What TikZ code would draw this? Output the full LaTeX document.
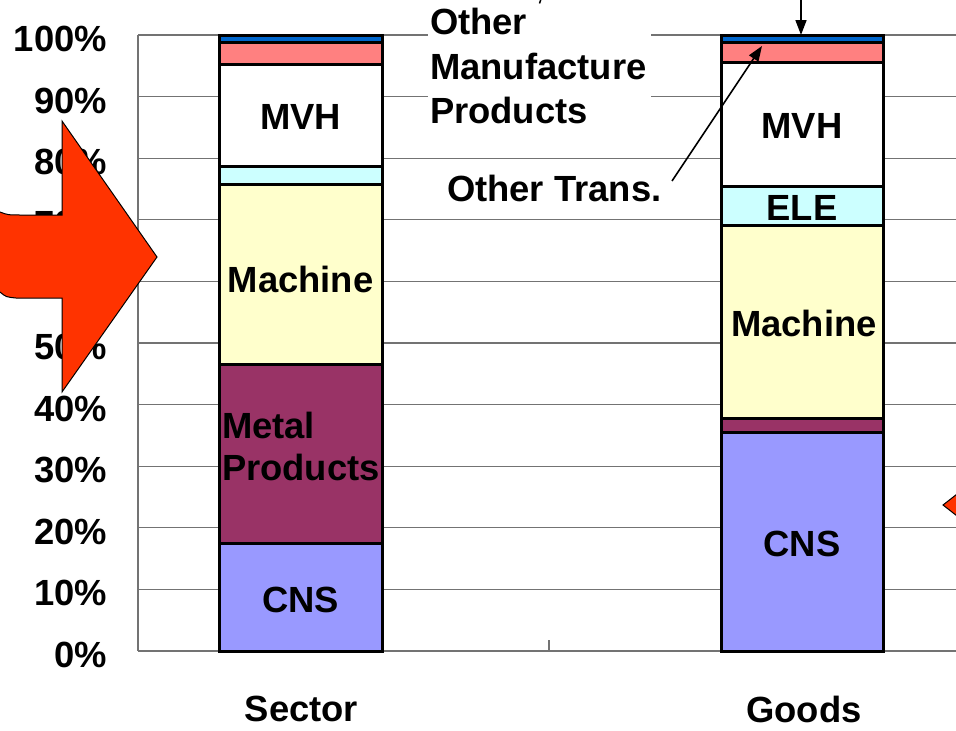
\documentclass[tikz,border=0pt]{standalone}
\usepackage{fontspec}
\setmainfont{Liberation Sans}
\usetikzlibrary{arrows.meta}
\definecolor{cnscol}{HTML}{9999FF}
\definecolor{metalcol}{HTML}{993366}
\definecolor{machcol}{HTML}{FFFFCC}
\definecolor{elecol}{HTML}{CCFFFF}
\definecolor{ompcol}{HTML}{FF8080}
\definecolor{otrcol}{HTML}{0066CC}
\definecolor{bigred}{HTML}{FF3300}
\begin{document}
\begin{tikzpicture}[x=1pt,y=-1pt,
  lbl/.style={font=\fontsize{36.4}{42}\selectfont\bfseries, inner sep=0pt, outer sep=0pt},
  gridln/.style={draw=black!55, line width=1.3pt},
  seg/.style={draw=black, line width=3pt},
  callout/.style={draw=black, line width=1.6pt, -{Triangle[length=15pt,width=11pt]}},
  redarrow/.style={fill=bigred, draw=black, line width=1pt, line join=miter}]
\useasboundingbox (0,0) rectangle (956,731);
\clip (0,0) rectangle (956,731);
\fill[white] (0,0) rectangle (956,731);

% grid lines and axes
\foreach \i in {0,...,10} {
  \draw[gridln] (138,{651-61.6*\i}) -- (956,{651-61.6*\i});
}
\draw[gridln] (138,35) -- (138,651);
\draw[gridln] (549,640) -- (549,651);

% y axis labels
\foreach \i/\t in {0/0,1/10,2/20,3/30,4/40,5/50,6/60,7/70,8/80,9/90,10/100} {
  \node[lbl, anchor=base east] (ylab\i) at (107,{651-61.6*\i+16.5}) {\t\%};
}

% bar 1 (Sector)
\draw[seg, fill=cnscol]   (219,543) rectangle (382,651);
\draw[seg, fill=metalcol] (219,364) rectangle (382,543);
\draw[seg, fill=machcol]  (219,184) rectangle (382,364);
\draw[seg, fill=elecol]   (219,166) rectangle (382,184);
\draw[seg, fill=white]    (219,64)  rectangle (382,166);
\draw[seg, fill=ompcol]   (219,42)  rectangle (382,64);
\draw[seg, fill=otrcol]   (219,35)  rectangle (382,42);

% bar 2 (Goods)
\draw[seg, fill=cnscol]   (721,432) rectangle (883,651);
\draw[seg, fill=metalcol] (721,418) rectangle (883,432);
\draw[seg, fill=machcol]  (721,225) rectangle (883,418);
\draw[seg, fill=elecol]   (721,186) rectangle (883,225);
\draw[seg, fill=white]    (721,62)  rectangle (883,186);
\draw[seg, fill=ompcol]   (721,42)  rectangle (883,62);
\draw[seg, fill=otrcol]   (721,35)  rectangle (883,42);

% bar labels
\node[lbl] (cns1) at (300.5,600) {CNS};
\node[lbl, anchor=north west, align=left] (metal1) at (222,412) {Metal\\Products};
\node[lbl] (mach1) at (300.5,279) {Machine};
\node[lbl] (mvh1) at (300.5,116.5) {MVH};

\node[lbl] (cns2) at (802,544) {CNS};
\node[lbl] (mach2) at (804,323) {Machine};
\node[lbl] (ele2) at (802,207.5) {ELE};
\node[lbl] (mvh2) at (802,125.5) {MVH};

% category labels
\node[lbl] (sector) at (301.5,709) {Sector};
\node[lbl] (goods) at (804,709) {Goods};

% callout labels
\fill[white] (428,0) rectangle (651,135);
\node[lbl, font=\fontsize{36.4}{44.5}\selectfont\bfseries, anchor=north west, align=left] (omplbl) at (430,8.5) {Other\\Manufacture\\Products};
\node[lbl, anchor=base west] (otlbl) at (447,201) {Other Trans.};

\coordinate (otstart) at (672,181);
\coordinate (omptarget) at (762,46);
\draw[callout] (otstart) -- (omptarget);
\coordinate (topstart) at (801,-2);
\coordinate (toptarget) at (801,35);
\draw[callout] (topstart) -- (toptarget);
\coordinate (markA) at (541,-1);
\coordinate (markB) at (539.5,3.5);
\draw[line width=1.5pt] (markA) -- (markB);

% big red arrow
\draw[redarrow] (0,212) .. controls (8,215) .. (22,215) -- (62,215) -- (62,121) -- (157,257)
  -- (62,392) -- (62,298) -- (16,298) .. controls (6,297) .. (0,292) -- (-5,292) -- (-5,212) -- cycle;

% small red arrow at right edge
\draw[redarrow] (943,505) -- (975,480) -- (975,530) -- cycle;
\end{tikzpicture}
\end{document}
